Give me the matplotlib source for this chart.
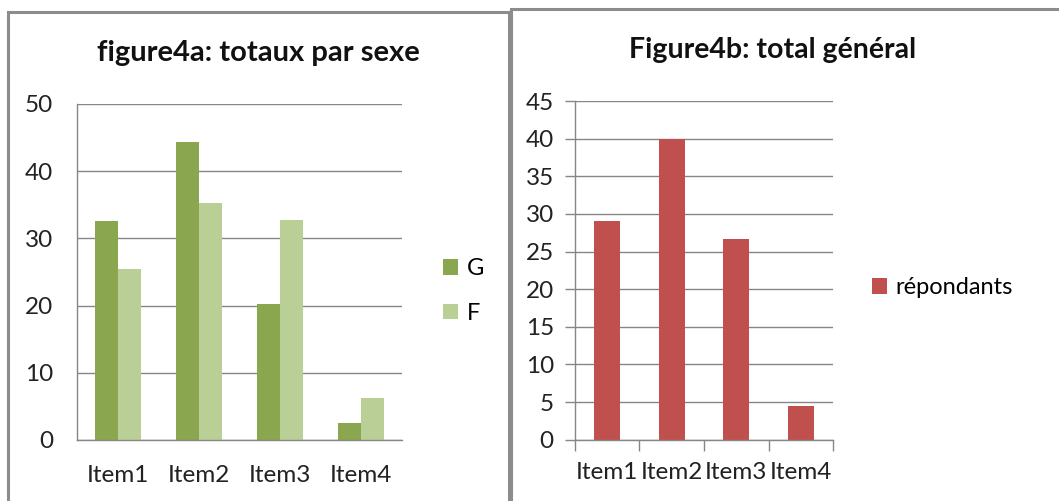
import matplotlib
matplotlib.use("Agg")
import matplotlib.pyplot as plt
from matplotlib.patches import Rectangle
import numpy as np

plt.rcParams['font.family'] = ['Lato', 'DejaVu Sans']

# data
items = ['Item1', 'Item2', 'Item3', 'Item4']
garcons = [32.6, 44.4, 20.2, 2.5]
filles = [25.4, 35.3, 32.8, 6.3]
repondants = [29.0, 40.0, 26.6, 4.5]

W, H = 1059, 501
fig = plt.figure(figsize=(W / 100, H / 100), dpi=100)

GRID = '#868686'
BORDER = '#8c8c8c'
TICK_FS = 17.5


def px_box(x0, y0, x1, y1):
    # pixel box (top-left origin) -> figure fraction [left, bottom, width, height]
    return [x0 / W, 1 - y1 / H, (x1 - x0) / W, (y1 - y0) / H]


def style_axes(ax):
    for s in ['top', 'right']:
        ax.spines[s].set_visible(False)
    ax.spines['left'].set_color(GRID)
    ax.spines['bottom'].set_color(GRID)
    ax.spines['left'].set_linewidth(1.0)
    ax.spines['bottom'].set_linewidth(1.0)
    ax.yaxis.grid(True, color=GRID, linewidth=1.0)
    ax.set_axisbelow(True)
    ax.tick_params(labelsize=TICK_FS, colors='#222222')


# frames of the two chart boxes
fig.patches.append(Rectangle((8 / W, -0.1), (509 - 8) / W, 1.1 - 12 / H,
                             transform=fig.transFigure, fill=False,
                             edgecolor=BORDER, linewidth=2.2))
fig.patches.append(Rectangle((511 / W, -0.1), 1.0, 1.1 - 9 / H,
                             transform=fig.transFigure, fill=False,
                             edgecolor=BORDER, linewidth=2.2))

# figure 4a
ax1 = fig.add_axes(px_box(77, 104, 402, 440))
x = np.arange(len(items))
bw = 0.283
ax1.bar(x - bw / 2, garcons, bw, color='#8aa64e', label='G')
ax1.bar(x + bw / 2, filles, bw, color='#bacf96', label='F')
ax1.set_xlim(-0.5, 3.5)
ax1.set_ylim(0, 50)
ax1.set_yticks(range(0, 51, 10))
ax1.set_xticks(x)
ax1.set_xticklabels(items)
style_axes(ax1)
ax1.tick_params(axis='both', length=0)
ax1.tick_params(axis='y', pad=17)
ax1.tick_params(axis='x', pad=18)
ax1.legend(loc='center left', bbox_to_anchor=(443 / W, 1 - 291 / H),
           bbox_transform=fig.transFigure, frameon=False, fontsize=17,
           handlelength=0.65, handleheight=0.65, handletextpad=0.35,
           labelspacing=1.0, borderpad=0, borderaxespad=0)
fig.text(258 / W, 1 - 53 / H, 'figure4a: totaux par sexe', ha='center',
         va='center', fontsize=21, fontweight='bold', color='#111111')

# figure 4b
ax2 = fig.add_axes(px_box(574.7, 101, 833.3, 439.7))
ax2.bar(x, repondants, 0.4, color='#c0504d', label='répondants')
ax2.set_xlim(-0.5, 3.5)
ax2.set_ylim(0, 45)
ax2.set_yticks(range(0, 46, 5))
ax2.set_xticks(x)
ax2.set_xticklabels(items)
ax2.set_xticks(np.arange(-0.5, 4, 1), minor=True)
style_axes(ax2)
ax2.tick_params(axis='x', which='major', length=0, pad=16)
ax2.tick_params(axis='x', which='minor', length=8, color=GRID, width=1.0)
ax2.tick_params(axis='y', length=7, color=GRID, width=1.0, pad=8)
ax2.legend(loc='center left', bbox_to_anchor=(872 / W, 1 - 288 / H),
           bbox_transform=fig.transFigure, frameon=False, fontsize=17,
           handlelength=0.65, handleheight=0.65, handletextpad=0.35,
           borderpad=0, borderaxespad=0)
fig.text(773 / W, 1 - 50 / H, 'Figure4b: total général', ha='center',
         va='center', fontsize=20.5, fontweight='bold', color='#111111')

fig.savefig('out.png', dpi=100)
